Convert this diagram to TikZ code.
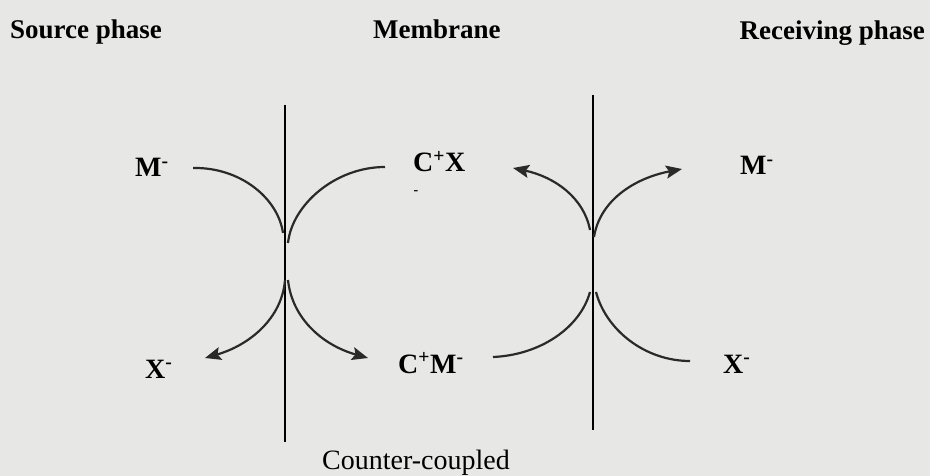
\documentclass[tikz,border=0pt]{standalone}
\usepackage{fontspec}
\setmainfont{Liberation Serif}
\usetikzlibrary{arrows.meta}
\definecolor{bgc}{HTML}{E7E8E6}
\definecolor{ink}{HTML}{2A2A2A}
\begin{document}
\begin{tikzpicture}[x=1pt,y=-1pt,
  hdr/.style={inner sep=0pt,font=\fontsize{27}{30}\selectfont\bfseries},
  chem/.style={inner sep=0pt,font=\fontsize{28}{30}\selectfont\bfseries},
  capt/.style={inner sep=0pt,font=\fontsize{28}{30}\selectfont},
  memb/.style={line width=2.4pt,black},
  flow/.style={line width=2.2pt,ink},
  tip/.style={-{Stealth[length=16pt,width=13pt,inset=3pt]}}]
\fill[bgc] (0,0) rectangle (930,476);
\useasboundingbox (0,0) rectangle (930,476);
% headers
\node[hdr,anchor=base west] (src) at (10,39) {Source phase};
\node[hdr,anchor=base west] (mem) at (373,39) {Membrane};
\node[hdr,anchor=base east] (rcv) at (925,40) {Receiving phase};
% membranes
\coordinate (m1t) at (285,105); \coordinate (m1b) at (285,442);
\coordinate (m2t) at (593,95);  \coordinate (m2b) at (593,430);
\draw[memb] (m1t) -- (m1b);
\draw[memb] (m2t) -- (m2b);
% labels
\node[chem,anchor=base west] (ml) at (135,177) {M\textsuperscript{-}};
\node[chem,anchor=base west] (cx) at (413,172) {C\textsuperscript{+}X};
\node[chem] (stray) at (416,193) {\fontsize{14}{14}\selectfont -};
\node[chem,anchor=base west] (xl) at (145,378) {X\textsuperscript{-}};
\node[chem,anchor=base west] (cm) at (398,373) {C\textsuperscript{+}M\textsuperscript{-}};
\node[chem,anchor=base west] (mr) at (740,175) {M\textsuperscript{-}};
\node[chem,anchor=base west] (xr) at (723,373) {X\textsuperscript{-}};
\node[capt,anchor=base west] (cc) at (322,469) {Counter-coupled};
% curve endpoints
\coordinate (a1) at (193,168); \coordinate (a2) at (283,233);
\coordinate (b1) at (385,167); \coordinate (b2) at (288,243);
\coordinate (c1) at (285,280); \coordinate (c2) at (205,358);
\coordinate (d1) at (288,280); \coordinate (d2) at (368,358);
\coordinate (e1) at (590,230); \coordinate (e2) at (513,168);
\coordinate (f1) at (594,237); \coordinate (f2) at (682,169);
\coordinate (g1) at (493,357); \coordinate (g2) at (590,292);
\coordinate (h1) at (596,292); \coordinate (h2) at (690,361);
% left membrane
\draw[flow] (a1) .. controls (240,167) and (278,198) .. (a2);
\draw[flow] (b1) .. controls (335,167) and (292,205) .. (b2);
\draw[flow,tip] (c1) .. controls (282,318) and (250,345) .. (c2);
\draw[flow,tip] (d1) .. controls (292,318) and (322,345) .. (d2);
% right membrane
\draw[flow,tip] (e1) .. controls (584,198) and (555,177) .. (e2);
\draw[flow,tip] (f1) .. controls (600,200) and (635,178) .. (f2);
\draw[flow] (g1) .. controls (540,355) and (580,328) .. (g2);
\draw[flow] (h1) .. controls (606,330) and (645,361) .. (h2);
\end{tikzpicture}
\end{document}
